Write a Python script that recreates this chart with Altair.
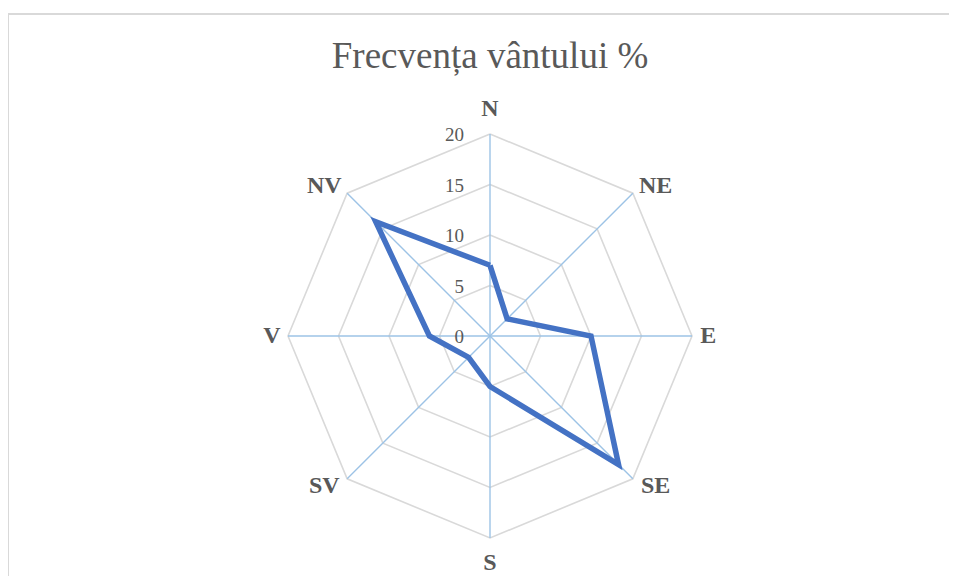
import altair as alt
import pandas as pd
import math

directions = ["N", "NE", "E", "SE", "S", "SV", "V", "NV"]
freq = [7.0, 2.4, 10.0, 18.0, 5.0, 3.0, 6.0, 16.0]
levels = [0, 5, 10, 15, 20]
title_text = ["Frecvența vântului %"]

W, H = 941, 568
cx, cy = 482, 328
ppu = 10.1
xs = alt.Scale(domain=[-cx / ppu, (W - cx) / ppu], nice=False, zero=False)
ys = alt.Scale(domain=[-(H - cy) / ppu, cy / ppu], nice=False, zero=False)

n = len(directions)
line_df = pd.DataFrame({
    "dir": [directions[i % n] for i in range(n + 1)],
    "idx": [i % n for i in range(n + 1)],
    "val": [freq[i % n] for i in range(n + 1)],
    "ord": list(range(n + 1)),
})
grid_df = pd.DataFrame([
    {"level": lv, "idx": i % n, "ord": i} for lv in levels for i in range(n + 1)
])
dir_df = pd.DataFrame({"dir": directions, "idx": list(range(n))})
tick_df = pd.DataFrame({"level": levels, "label": [str(v) for v in levels]})
title_df = pd.DataFrame({"t": title_text})

ang = "datum.idx * PI / 4"

grid = alt.Chart(grid_df).transform_calculate(
    x=f"datum.level * sin({ang})", y=f"datum.level * cos({ang})"
).mark_line(color="#d9d9d9", strokeWidth=1.6).encode(
    x=alt.X("x:Q", scale=xs, axis=None),
    y=alt.Y("y:Q", scale=ys, axis=None),
    detail="level:N",
    order="ord:Q",
)

spokes = alt.Chart(dir_df).transform_calculate(
    x0="0", y0="0",
    x2=f"{levels[-1]} * sin({ang})", y2=f"{levels[-1]} * cos({ang})"
).mark_rule(color="#9dc3e6", strokeWidth=1.4).encode(
    x=alt.X("x0:Q", scale=xs, axis=None),
    y=alt.Y("y0:Q", scale=ys, axis=None),
    x2="x2:Q", y2="y2:Q",
)

series = alt.Chart(line_df).transform_calculate(
    x=f"datum.val * sin({ang})", y=f"datum.val * cos({ang})"
).mark_line(color="#4472c4", strokeWidth=5.5, strokeJoin="miter").encode(
    x=alt.X("x:Q", scale=xs, axis=None),
    y=alt.Y("y:Q", scale=ys, axis=None),
    order="ord:Q",
)

dir_labels = alt.Chart(dir_df).transform_calculate(
    s=f"sin({ang})", c=f"cos({ang})"
).transform_calculate(
    x="datum.s * (21.6 + 3.2 * abs(datum.s * datum.c))",
    y="datum.c * (22.5 - 3 * abs(datum.s * datum.c))",
).mark_text(font="Liberation Serif", fontSize=24, fontWeight="bold",
            color="#595959", baseline="middle", align="center").encode(
    x=alt.X("x:Q", scale=xs, axis=None),
    y=alt.Y("y:Q", scale=ys, axis=None),
    text="dir:N",
)

tick_labels = alt.Chart(tick_df).transform_calculate(x0="0").mark_text(
    font="Liberation Serif", fontSize=19, color="#595959",
    align="right", baseline="middle", dx=-26, dy=1,
).encode(
    x=alt.X("x0:Q", scale=xs, axis=None),
    y=alt.Y("level:Q", scale=ys, axis=None),
    text="label:N",
)

title = alt.Chart(title_df).mark_text(
    font="Liberation Serif", fontSize=37, color="#595959",
    align="center", baseline="alphabetic",
).encode(x=alt.value(482), y=alt.value(60), text="t:N")

border_top = alt.Chart(tick_df).mark_rule(color="#d9d9d9", strokeWidth=1.5).encode(
    x=alt.value(0), x2=alt.value(W), y=alt.value(6)
)
border_left = alt.Chart(tick_df).mark_rule(color="#d9d9d9", strokeWidth=1.5).encode(
    x=alt.value(0), y=alt.value(6), y2=alt.value(H)
)

chart = alt.layer(
    border_top, border_left, grid, spokes, series, tick_labels, dir_labels, title
).properties(
    width=W, height=H,
    autosize=alt.AutoSizeParams(type="none"),
    padding=0,
).configure_view(stroke=None)

chart.save("out.html", embed_options={"renderer": "svg", "actions": False})
